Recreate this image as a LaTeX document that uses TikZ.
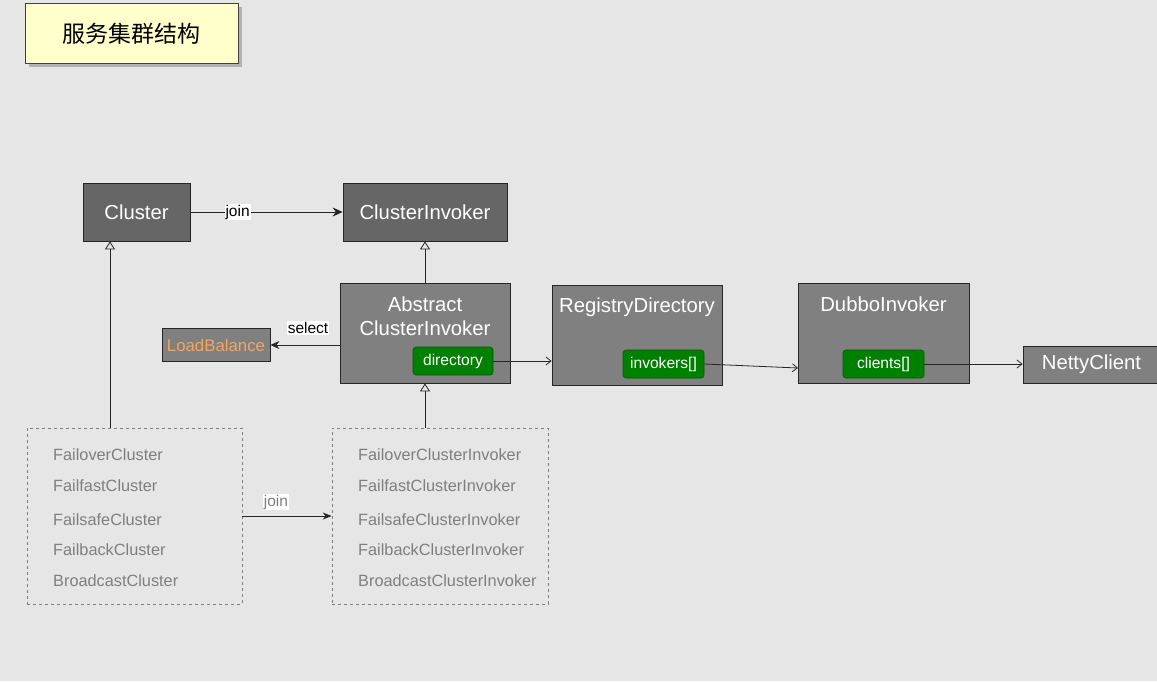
\documentclass[tikz,border=0pt]{standalone}
\usepackage{fontspec}
\setmainfont{Liberation Sans}
\newfontfamily\cjk{Noto Sans CJK SC}
\usetikzlibrary{arrows.meta,calc}

\definecolor{bgcol}{HTML}{E6E6E6}
\definecolor{darkbox}{HTML}{666666}
\definecolor{midbox}{HTML}{808080}
\definecolor{fieldgreen}{HTML}{008000}
\definecolor{fieldedge}{HTML}{005C00}
\definecolor{lborange}{HTML}{F5A55E}
\definecolor{implgray}{HTML}{7F7F7F}
\definecolor{titlefill}{HTML}{FFFFCC}

\tikzset{
  big/.style={font=\fontsize{20.3}{24}\selectfont},
  classbox/.style={draw=black!85, fill=darkbox, text=white, big, inner sep=0pt, line width=0.8pt},
  plainbox/.style={draw=black!85, fill=midbox, inner sep=0pt, line width=0.8pt},
  boxtitle/.style={text=white, big, align=center, inner sep=0pt},
  field/.style={draw=fieldedge, fill=fieldgreen, rounded corners=3pt, text=white,
    font=\fontsize{15.6}{18}\selectfont, minimum width=81pt, minimum height=28pt, inner sep=0pt, line width=0.6pt},
  implbox/.style={draw=implgray, dashed, line width=0.7pt, minimum width=216pt, minimum height=176pt, inner sep=0pt},
  impl/.style={text=implgray, anchor=west, font=\fontsize{16.3}{19}\selectfont, inner sep=0pt},
  tag/.style={fill=white, text=black, font=\fontsize{15.5}{18}\selectfont, inner sep=1pt},
  inherit/.style={-{Triangle[open,length=8pt,width=10pt]}, line width=0.8pt, black!85},
  assoc/.style={-{Straight Barb[length=5pt,width=8pt]}, line width=0.8pt, black!85},
  joinarrow/.style={-{Stealth[length=10pt,width=9pt]}, line width=0.8pt, black!85},
}

\begin{document}
\begin{tikzpicture}[x=1pt,y=-1pt]
  \fill[bgcol] (0,0) rectangle (1157,681);
  \useasboundingbox (0,0) rectangle (1157,681);

  % title
  \fill[black!30] (29,7) rectangle (242,67);
  \node[draw=black!75, fill=titlefill, line width=0.8pt, minimum width=213pt, minimum height=60pt, inner sep=0pt,
        font=\cjk\fontsize{23}{27}\selectfont] (title) at (131.5,33.5) {服务集群结构};

  % top row
  \node[classbox, minimum width=107pt, minimum height=58pt] (cluster) at (136.5,212) {\raisebox{-1pt}{Cluster}};
  \node[classbox, minimum width=164pt, minimum height=58pt] (cinv) at (425,212) {\raisebox{-1pt}{ClusterInvoker}};

  % abstract invoker
  \node[plainbox, minimum width=170pt, minimum height=100pt] (abs) at (425,333) {};
  \node[boxtitle] (abstitle) at (425,316) {Abstract\\[0pt]ClusterInvoker};
  \node[field, minimum width=80pt] (dir) at (453,361) {directory};

  % load balance
  \node[plainbox, minimum width=108pt, minimum height=33pt, text=lborange,
        font=\fontsize{16.8}{19}\selectfont] (lb) at (216,345) {\raisebox{-1pt}{LoadBalance}};

  % registry directory
  \node[plainbox, minimum width=170pt, minimum height=100pt] (reg) at (637,335) {};
  \node[boxtitle] (regtitle) at (637,307) {RegistryDirectory};
  \node[field] (invk) at (663.5,364) {\raisebox{-1pt}{invokers[]}};

  % dubbo invoker
  \node[plainbox, minimum width=171pt, minimum height=100pt] (dubbo) at (883.5,333) {};
  \node[boxtitle] (dubbotitle) at (883.5,304) {DubboInvoker};
  \node[field] (clients) at (883.5,364) {\raisebox{-1pt}{clients[]}};

  % netty client
  \node[plainbox, minimum width=137pt, minimum height=37pt, text=white, big] (netty) at (1091.5,364.5) {\raisebox{-1pt}{NettyClient}};

  % implementation groups
  \node[implbox, minimum width=215pt] (lbox) at (134.5,516) {};
  \node[implbox] (rbox) at (440,516) {};
  \foreach \name/\yy [count=\i] in {Failover/455,Failfast/486,Failsafe/520,Failback/550,Broadcast/581}{
    \node[impl] (lc\i) at (53,\yy) {\name Cluster};
    \node[impl] (rc\i) at (358,\yy) {\name ClusterInvoker};
  }

  % connectors
  \coordinate (cx) at (110,0);
  \coordinate (dubboin) at (798,368);
  \draw[joinarrow] (cluster.east) -- node[tag, pos=0.31] (join1) {join} (cinv.west);
  \draw[inherit] (abs.north) -- (cinv.south);
  \draw[inherit] (lbox.north -| cx) -- (cluster.south -| cx);
  \draw[inherit] (rbox.north -| abs.south) -- (abs.south);
  \draw[joinarrow, -{Stealth[length=9pt,width=7pt]}] (lbox.east) -- (rbox.west);
  \node[tag, text=implgray] (join2) at (276,502) {join};
  \draw[assoc, -{Stealth[length=9pt,width=8pt]}] (abs.west |- lb.east) -- (lb.east);
  \node[tag] (sel) at (308,328) {select};
  \draw[assoc] (dir.east) -- (reg.west |- dir.east);
  \draw[assoc] (invk.east) -- (dubboin);
  \draw[assoc] (clients.east) -- (netty.west |- clients.east);
\end{tikzpicture}
\end{document}
